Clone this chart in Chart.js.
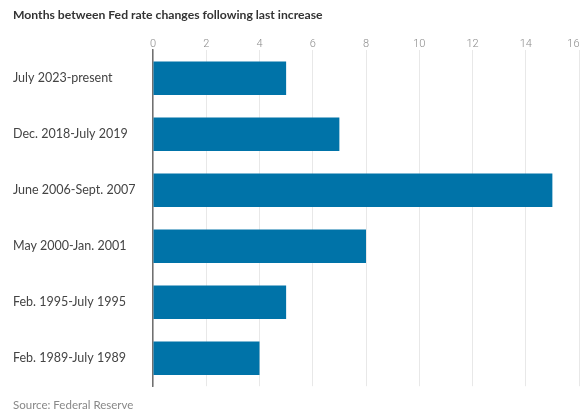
<!DOCTYPE html>
<html>
<head>
<meta charset="utf-8">
<script src="https://cdn.jsdelivr.net/npm/chart.js@4.4.1/dist/chart.umd.min.js"></script>
<style>
  html, body { margin: 0; padding: 0; background: #fff; }
  #wrap { width: 581px; height: 413px; }
</style>
</head>
<body>
<div id="wrap"><canvas id="myChart"></canvas></div>
<script>
// periods between the last hike and the next change
var periods = [
    "July 2023-present",
    "Dec. 2018-July 2019",
    "June 2006-Sept. 2007",
    "May 2000-Jan. 2001",
    "Feb. 1995-July 1995",
    "Feb. 1989-July 1989"
];
// months in each period
var months = [5, 7, 15, 8, 5, 4];
var monthTicks = [0, 2, 4, 6, 8, 10, 12, 14, 16];

var titleText = "Months between Fed rate changes following last increase";
var sourceText = "Source: Federal Reserve";

var data = {
    labels: periods,
    datasets: [{
        data: months,
        backgroundColor: "#0073a8",
        borderWidth: 0,
        barPercentage: 0.6,
        categoryPercentage: 1
    }]
};

var config = {
    type: "bar",
    data: data,
    options: {
        indexAxis: "y",
        responsive: true,
        maintainAspectRatio: false,
        animation: false,
        layout: { padding: { left: 13, right: 2, top: 0, bottom: 0 } },
        plugins: {
            legend: { display: false },
            tooltip: { enabled: false },
            title: {
                display: true,
                text: titleText,
                align: "start",
                color: "#333",
                font: { family: "Lato", size: 12.2, weight: "bold" },
                padding: { top: 8, bottom: 8 }
            },
            subtitle: {
                display: true,
                text: sourceText,
                position: "bottom",
                align: "start",
                color: "#888",
                font: { family: "Lato", size: 11.5 },
                padding: { top: 12, bottom: 1 }
            }
        },
        scales: {
            x: {
                position: "top",
                min: 0,
                max: 16,
                afterBuildTicks: function (s) {
                    s.ticks = monthTicks.map(function (v) { return { value: v }; });
                },
                afterFit: function (s) {
                    s.height = 19.6;
                    // let the last label sit inside the edge instead of shrinking the plot
                    s.paddingRight = 0;
                },
                grid: { color: "#e8e8e8", drawTicks: false },
                border: { display: false },
                ticks: {
                    color: "#8a8a8a",
                    padding: -1,
                    font: { family: "Roboto", size: 11, weight: "300" },
                    callback: function (v) {
                        return v === 16 ? "16\u2002\u2002" : String(v);
                    }
                }
            },
            y: {
                afterFit: function (s) { s.width = 140; },
                grid: { display: false },
                border: { color: "#707070", width: 1.5 },
                ticks: {
                    crossAlign: "far",
                    color: "#444",
                    font: { family: "Lato", size: 12.5 }
                }
            }
        }
    }
};

var myChart = new Chart(document.getElementById("myChart"), config);
</script>
</body>
</html>
